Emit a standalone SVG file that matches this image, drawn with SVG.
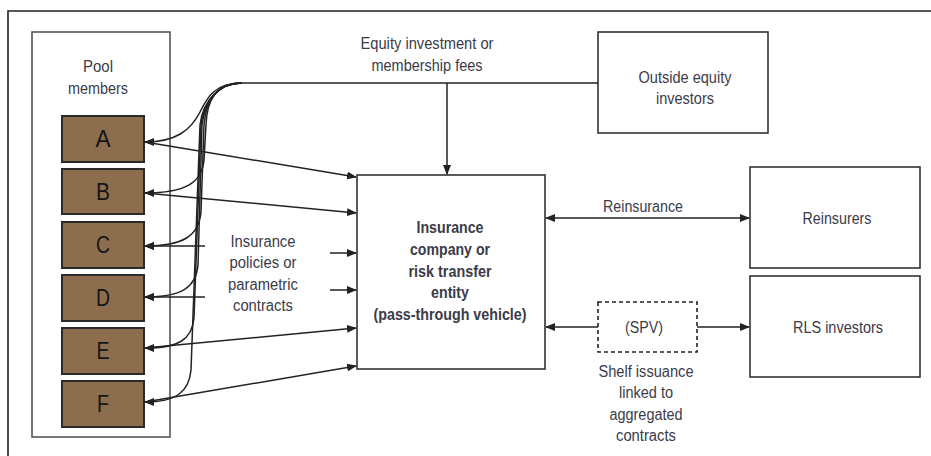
<svg xmlns="http://www.w3.org/2000/svg" width="931" height="456" viewBox="0 0 931 456">
<style>
text{font-family:"Liberation Sans",Arial,sans-serif;fill:#3b3b48;font-size:16px;text-anchor:middle;dominant-baseline:central}
.box{fill:#fff;stroke:#333;stroke-width:1.6}
.mem{fill:#8c6d4e;stroke:#2a2a2a;stroke-width:2}
.lt{fill:#151515;font-size:23px}
.c{fill:none;stroke:#222;stroke-width:1.5}
.b{font-weight:bold}
</style>
<defs>
<marker id="ah" markerWidth="10" markerHeight="8" refX="9" refY="4" orient="auto-start-reverse" markerUnits="userSpaceOnUse">
<path d="M0,0 L10,4 L0,8 Z" fill="#222"/>
</marker>
</defs>
<rect width="931" height="456" fill="#fff"/>
<path d="M8,456 V11 H931" fill="none" stroke="#222" stroke-width="1.6"/>

<g id="pool">
<rect x="32" y="32" width="138" height="405" fill="#fff" stroke="#555" stroke-width="1.6"/>
<text x="98" y="66" textLength="30" lengthAdjust="spacingAndGlyphs">Pool</text>
<text x="98" y="88" textLength="60" lengthAdjust="spacingAndGlyphs">members</text>
</g>
<g id="A"><rect class="mem" x="62" y="116" width="82" height="46"/><text class="lt" x="103" y="139" textLength="15" lengthAdjust="spacingAndGlyphs">A</text></g>
<g id="B"><rect class="mem" x="62" y="169" width="82" height="45"/><text class="lt" x="103" y="192" textLength="14" lengthAdjust="spacingAndGlyphs">B</text></g>
<g id="C"><rect class="mem" x="62" y="222" width="82" height="46"/><text class="lt" x="103" y="245" textLength="14" lengthAdjust="spacingAndGlyphs">C</text></g>
<g id="D"><rect class="mem" x="62" y="275" width="82" height="46"/><text class="lt" x="103" y="298" textLength="14" lengthAdjust="spacingAndGlyphs">D</text></g>
<g id="E"><rect class="mem" x="62" y="328" width="82" height="46"/><text class="lt" x="103" y="351" textLength="13" lengthAdjust="spacingAndGlyphs">E</text></g>
<g id="F"><rect class="mem" x="62" y="381" width="82" height="46"/><text class="lt" x="103" y="404" textLength="12" lengthAdjust="spacingAndGlyphs">F</text></g>

<g id="insurer">
<rect class="box" x="357" y="175" width="188" height="194"/>
<text class="b" x="450" y="227" textLength="67" lengthAdjust="spacingAndGlyphs">Insurance</text>
<text class="b" x="450" y="249" textLength="80" lengthAdjust="spacingAndGlyphs">company or</text>
<text class="b" x="450" y="271" textLength="83" lengthAdjust="spacingAndGlyphs">risk transfer</text>
<text class="b" x="450" y="292" textLength="38" lengthAdjust="spacingAndGlyphs">entity</text>
<text class="b" x="450" y="314" textLength="153" lengthAdjust="spacingAndGlyphs">(pass-through vehicle)</text>
</g>
<g id="outside">
<rect class="box" x="598" y="32" width="170" height="101"/>
<text x="685" y="77" textLength="93" lengthAdjust="spacingAndGlyphs">Outside equity</text>
<text x="685" y="98" textLength="58" lengthAdjust="spacingAndGlyphs">investors</text>
</g>
<g id="reinsurers">
<rect class="box" x="750" y="167" width="170" height="101"/>
<text x="837" y="218" textLength="69" lengthAdjust="spacingAndGlyphs">Reinsurers</text>
</g>
<g id="rls">
<rect class="box" x="750" y="276" width="170" height="101"/>
<text x="838" y="327" textLength="90" lengthAdjust="spacingAndGlyphs">RLS investors</text>
</g>
<g id="spv">
<rect x="598" y="302" width="99" height="50" fill="#fff" stroke="#222" stroke-width="1.6" stroke-dasharray="4,3"/>
<text x="644" y="327" textLength="38" lengthAdjust="spacingAndGlyphs">(SPV)</text>
</g>

<g id="connectors">
<path class="c" d="M242,83 H598"/>
<path class="c" d="M447,83 V174" marker-end="url(#ah)"/>
<path class="c" d="M242,83 C214,83 207,98 200,112 C191,130 176,142 145,142" marker-end="url(#ah)"/>
<path class="c" d="M242,83 C216,83 207,100 206,125 L204,160 C202,183 185,193 145,193" marker-end="url(#ah)"/>
<path class="c" d="M242,83 C217,83 206,100 204,125 L201,212 C199,236 183,246 145,246" marker-end="url(#ah)"/>
<path class="c" d="M242,83 C218,83 205,100 202,125 L198,265 C196,288 181,297 145,297" marker-end="url(#ah)"/>
<path class="c" d="M242,83 C219,83 204,100 201,125 L194,318 C192,340 178,348 145,348" marker-end="url(#ah)"/>
<path class="c" d="M242,83 C220,83 203,100 200,125 L191,370 C189,392 176,402 145,402" marker-end="url(#ah)"/>
<path class="c" d="M145,142 L356,177" marker-end="url(#ah)"/>
<path class="c" d="M145,193 L356,213" marker-end="url(#ah)"/>
<path class="c" d="M205,246 H145" marker-end="url(#ah)"/>
<path class="c" d="M205,297 H145" marker-end="url(#ah)"/>
<path class="c" d="M330,253 H356" marker-end="url(#ah)"/>
<path class="c" d="M330,290 H356" marker-end="url(#ah)"/>
<path class="c" d="M145,348 L356,328" marker-end="url(#ah)"/>
<path class="c" d="M145,402 L356,366" marker-end="url(#ah)"/>
<path class="c" d="M546,218 H749" marker-start="url(#ah)" marker-end="url(#ah)"/>
<path class="c" d="M598,327 H546" marker-end="url(#ah)"/>
<path class="c" d="M697,327 H749" marker-end="url(#ah)"/>
</g>

<g id="labels">
<text x="427" y="43" textLength="133" lengthAdjust="spacingAndGlyphs">Equity investment or</text>
<text x="427" y="65" textLength="111" lengthAdjust="spacingAndGlyphs">membership fees</text>
<text x="263" y="241" textLength="65" lengthAdjust="spacingAndGlyphs">Insurance</text>
<text x="263" y="262" textLength="67" lengthAdjust="spacingAndGlyphs">policies or</text>
<text x="263" y="284" textLength="70" lengthAdjust="spacingAndGlyphs">parametric</text>
<text x="263" y="305" textLength="60" lengthAdjust="spacingAndGlyphs">contracts</text>
<text x="643" y="206" textLength="80" lengthAdjust="spacingAndGlyphs">Reinsurance</text>
<text x="646" y="371" textLength="95" lengthAdjust="spacingAndGlyphs">Shelf issuance</text>
<text x="646" y="392" textLength="54" lengthAdjust="spacingAndGlyphs">linked to</text>
<text x="646" y="414" textLength="73" lengthAdjust="spacingAndGlyphs">aggregated</text>
<text x="646" y="435" textLength="60" lengthAdjust="spacingAndGlyphs">contracts</text>
</g>
</svg>
